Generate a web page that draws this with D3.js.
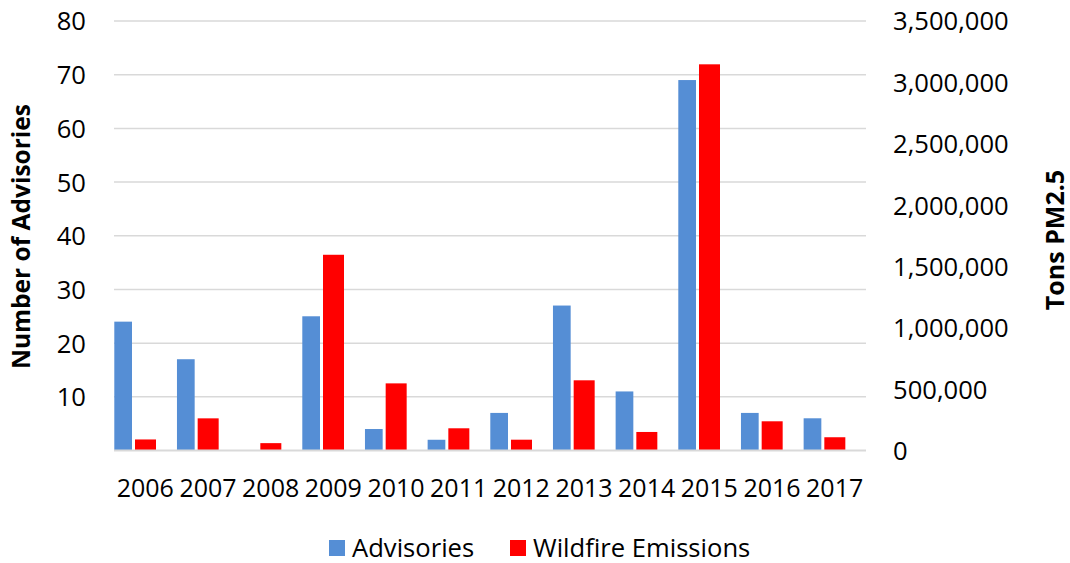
<!DOCTYPE html>
<html>
<head>
<meta charset="utf-8">
<script src="https://cdn.jsdelivr.net/npm/d3@7"></script>
<style>
  html, body { margin: 0; padding: 0; background: #fff; }
  svg { display: block; font-family: "Open Sans", "Noto Sans", sans-serif; }
</style>
</head>
<body>
<svg id="chart" width="1070" height="563"></svg>
<script>
// Yearly smoke advisories and wildfire PM2.5 emissions
const years = ["2006","2007","2008","2009","2010","2011","2012","2013","2014","2015","2016","2017"];
const advisories = [24, 17, 0, 25, 4, 2, 7, 27, 11, 69, 7, 6];
const emissions = [90000, 262000, 60000, 1595000, 547000, 181000, 88000, 572000, 151000, 3147000, 238000, 108000];
const leftTicks = [0, 10, 20, 30, 40, 50, 60, 70, 80];
const rightTicks = [0, 500000, 1000000, 1500000, 2000000, 2500000, 3000000, 3500000];
const seriesNames = ["Advisories", "Wildfire Emissions"];
const seriesColors = ["#558ED5", "#FF0000"];

const svg = d3.select("#chart");
const plot = { left: 114, right: 866, top: 21, bottom: 450.5 };

const x = d3.scaleBand().domain(years).range([plot.left, plot.right]).padding(0);
const yL = d3.scaleLinear().domain([0, 80]).range([plot.bottom, plot.top]);
const yR = d3.scaleLinear().domain([0, 3500000]).range([plot.bottom, plot.top]);

// horizontal gridlines from the left axis
svg.append("g")
  .selectAll("line")
  .data(leftTicks.filter(d => d > 0))
  .join("line")
  .attr("x1", plot.left).attr("x2", plot.right)
  .attr("y1", d => yL(d)).attr("y2", d => yL(d))
  .attr("stroke", "#d9d9d9").attr("stroke-width", 1.5);

// bars: advisories at the start of each year slot, emissions right after
const slot = 21;
svg.append("g").selectAll("rect")
  .data(years.map((yr, i) => ({ yr, v: advisories[i] })).filter(d => d.v > 0))
  .join("rect")
  .attr("x", d => x(d.yr) + 0.3)
  .attr("width", slot - 3.3)
  .attr("y", d => yL(d.v))
  .attr("height", d => yL(0) - yL(d.v))
  .attr("fill", seriesColors[0]);

svg.append("g").selectAll("rect")
  .data(years.map((yr, i) => ({ yr, v: emissions[i] })))
  .join("rect")
  .attr("x", d => x(d.yr) + slot)
  .attr("width", slot)
  .attr("y", d => yR(d.v))
  .attr("height", d => yR(0) - yR(d.v))
  .attr("fill", seriesColors[1]);

// baseline
svg.append("line")
  .attr("x1", plot.left).attr("x2", plot.right)
  .attr("y1", yL(0)).attr("y2", yL(0))
  .attr("stroke", "#d9d9d9").attr("stroke-width", 2);

const fontSize = 25.6;

// left axis
const leftAxis = d3.axisLeft(yL).tickValues(leftTicks.filter(d => d > 0)).tickSize(0).tickPadding(0);
const gL = svg.append("g").attr("transform", "translate(86,0)").call(leftAxis);
gL.select(".domain").remove();
gL.selectAll("text").attr("font-size", fontSize).attr("fill", "#000")
  .attr("font-family", "'Open Sans', sans-serif").attr("dy", "0.35em");

// right axis
const rightAxis = d3.axisRight(yR).tickValues(rightTicks).tickSize(0).tickPadding(0).tickFormat(d3.format(","));
const gR = svg.append("g").attr("transform", "translate(893,0)").call(rightAxis);
gR.select(".domain").remove();
gR.selectAll("text").attr("font-size", fontSize).attr("fill", "#000")
  .attr("font-family", "'Open Sans', sans-serif").attr("dy", "0.35em");

// category axis
const bottomAxis = d3.axisBottom(x).tickSize(0).tickPadding(0);
const gB = svg.append("g").attr("transform", "translate(0,488)").call(bottomAxis);
gB.select(".domain").remove();
gB.selectAll("text").attr("font-size", 25).attr("fill", "#000")
  .attr("font-family", "'Open Sans', sans-serif").attr("dy", "0.35em");

// axis titles
svg.append("text")
  .attr("transform", "translate(20,236.5) rotate(-90)")
  .attr("text-anchor", "middle").attr("dominant-baseline", "central")
  .attr("font-size", 24.5).attr("font-weight", "bold").attr("fill", "#000")
  .text("Number of Advisories");

svg.append("text")
  .attr("transform", "translate(1054,240) rotate(-90)")
  .attr("text-anchor", "middle").attr("dominant-baseline", "central")
  .attr("font-size", 25).attr("font-weight", "bold").attr("fill", "#000")
  .text("Tons PM2.5");

// legend
const legendItems = [
  { name: seriesNames[0], color: seriesColors[0], x: 329 },
  { name: seriesNames[1], color: seriesColors[1], x: 510 }
];
const lg = svg.append("g");
legendItems.forEach(item => {
  lg.append("rect").attr("x", item.x).attr("y", 540).attr("width", 16).attr("height", 16).attr("fill", item.color);
  lg.append("text").attr("x", item.x + 23).attr("y", 556.5)
    .attr("font-size", fontSize).attr("fill", "#000").text(item.name);
});
</script>
</body>
</html>
